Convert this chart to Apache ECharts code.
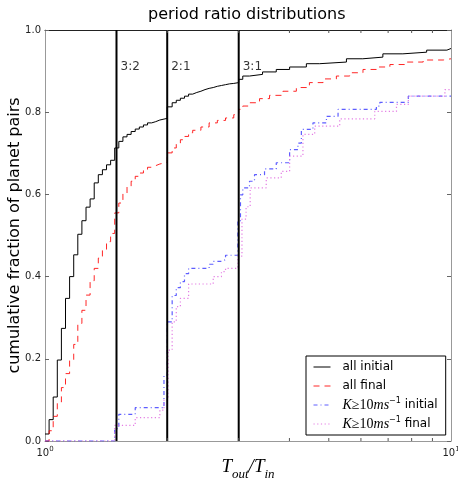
<!DOCTYPE html>
<html><head><meta charset="utf-8">
<script src="https://cdn.jsdelivr.net/npm/echarts@6/dist/echarts.min.js"></script>
<style>html,body{margin:0;padding:0;background:#fff}#c{width:458px;height:482px}</style>
</head><body><div id="c"></div>
<script>
// ---- data ----
const allInitial = [[1.000,0.017],[1.0235,0.052],[1.0476,0.107],[1.0723,0.197],[1.0975,0.274],[1.1233,0.347],[1.1497,0.400],[1.1768,0.453],[1.2045,0.503],[1.2328,0.536],[1.2619,0.569],[1.2915,0.589],[1.3219,0.628],[1.3530,0.648],[1.3849,0.660],[1.4175,0.672],[1.4508,0.683],[1.4848,0.713],[1.5199,0.729],[1.5556,0.740],[1.5923,0.746],[1.6298,0.753],[1.6681,0.759],[1.7074,0.764],[1.7476,0.769],[1.7888,0.774],[1.8309,0.777],[1.8740,0.781],[1.9182,0.785],[2.000,0.813],[2.0569,0.823],[2.1054,0.829],[2.1550,0.834],[2.2058,0.839],[2.2577,0.844],[2.3109,0.848],[2.3654,0.851],[2.4211,0.855],[2.4782,0.858],[2.5365,0.860],[2.5963,0.863],[2.6575,0.865],[2.7201,0.867],[2.7841,0.869],[2.8497,0.870],[2.9168,0.872],[3.000,0.880],[3.070,0.888],[3.189,0.892],[3.434,0.898],[3.712,0.904],[4.004,0.910],[4.403,0.918],[4.749,0.922],[5.527,0.930],[6.064,0.934],[6.795,0.942],[7.612,0.946],[8.710,0.951],[9.770,0.955],[10,0.955]];
const allFinal = [[1.000,0],[1.0235,0.025],[1.0476,0.060],[1.0723,0.095],[1.0975,0.130],[1.1233,0.164],[1.1497,0.196],[1.1768,0.235],[1.2045,0.286],[1.2328,0.318],[1.2619,0.355],[1.2915,0.390],[1.3219,0.420],[1.3530,0.445],[1.3849,0.465],[1.4175,0.485],[1.4508,0.505],[1.4848,0.555],[1.5199,0.579],[1.5556,0.603],[1.5923,0.620],[1.6298,0.632],[1.6681,0.644],[1.7074,0.652],[1.7476,0.660],[1.7888,0.666],[1.8309,0.670],[1.8740,0.674],[1.9182,0.678],[2.000,0.701],[2.0569,0.713],[2.1054,0.725],[2.1550,0.733],[2.2058,0.741],[2.2577,0.750],[2.3109,0.756],[2.4211,0.764],[2.5365,0.774],[2.6575,0.780],[2.7841,0.786],[2.9168,0.794],[3.000,0.807],[3.070,0.815],[3.189,0.823],[3.376,0.833],[3.573,0.841],[3.855,0.851],[4.160,0.860],[4.480,0.872],[4.840,0.881],[5.220,0.888],[5.630,0.896],[6.070,0.904],[6.550,0.910],[7.070,0.916],[7.770,0.922],[8.540,0.927],[9.570,0.930],[10,0.930]];
const kInitial = [[1.000,0],[1.4848,0.030],[1.5199,0.065],[1.6681,0.081],[1.9634,0.160],[2.000,0.290],[2.0569,0.354],[2.1054,0.373],[2.1550,0.388],[2.2058,0.407],[2.2577,0.420],[2.5365,0.430],[2.5963,0.437],[2.7201,0.441],[2.7841,0.452],[2.9856,0.534],[3.030,0.599],[3.070,0.616],[3.189,0.632],[3.281,0.648],[3.473,0.662],[3.712,0.677],[4.004,0.709],[4.198,0.725],[4.280,0.758],[4.570,0.774],[4.934,0.790],[5.270,0.807],[6.550,0.815],[6.680,0.824],[7.850,0.839],[10,0.839]];
const kFinal = [[1.000,0],[1.4848,0.038],[1.6681,0.057],[1.9182,0.075],[1.9634,0.100],[2.0096,0.221],[2.0569,0.290],[2.1054,0.327],[2.1550,0.347],[2.2577,0.382],[2.5963,0.400],[2.7201,0.412],[2.7841,0.420],[2.9856,0.450],[3.0559,0.540],[3.1279,0.570],[3.2016,0.616],[3.507,0.640],[3.819,0.656],[4.004,0.693],[4.318,0.746],[4.616,0.766],[5.320,0.784],[6.490,0.802],[7.340,0.819],[7.850,0.839],[9.660,0.855],[10,0.855]];
const seriesNames = ['all initial', 'all final', 'K≥10ms-1 initial', 'K≥10ms-1 final'];
const resonanceX = [1.5, 2, 3];
const resonanceLabels = ['3:2', '2:1', '3:1'];
const resonanceLabelY = 0.91;
const xMinorTicks = [2, 3, 4, 5, 6, 7, 8, 9];
const yTickFormat = 1; // decimals

const SANS = 'DejaVu Sans';
const SERIF = 'Liberation Serif';

const legendText = {
  'all initial': '{r|all initial}',
  'all final': '{r|all final}',
  'K≥10ms-1 initial': '{it|K}{n|≥10}{it|ms}{sup|−1}{r| initial}',
  'K≥10ms-1 final': '{it|K}{n|≥10}{it|ms}{sup|−1}{r| final}'
};

const chart = echarts.init(document.getElementById('c'), null, {renderer: 'canvas'});

function stepSeries(name, data, color, type, width) {
  return {
    name, type: 'line', data, step: 'end', symbol: 'none', showSymbol: false,
    lineStyle: {color, width, type}, itemStyle: {color}, clip: true, z: 3,
    xAxisIndex: 0, yAxisIndex: 0
  };
}

const series = [
  stepSeries(seriesNames[0], allInitial, '#000000', 'solid', 1),
  stepSeries(seriesNames[1], allFinal, 'rgba(255,0,0,0.85)', [6, 5], 1),
  stepSeries(seriesNames[2], kInitial, 'rgba(40,40,255,0.75)', [4, 3, 1, 3], 1.2),
  stepSeries(seriesNames[3], kFinal, 'rgba(225,110,225,0.9)', [1.2, 2.5], 1.2)
];

resonanceX.forEach((x) => {
  series.push({
    type: 'line', data: [[x, 0], [x, 1]], symbol: 'none', silent: true, z: 4,
    lineStyle: {color: '#000', width: 2}, xAxisIndex: 0, yAxisIndex: 0
  });
});

series.push({
  type: 'scatter', symbolSize: 0, silent: true, z: 5,
  data: resonanceX.map((x, i) => [x, resonanceLabelY, resonanceLabels[i]]),
  label: {show: true, position: 'right', distance: 4, formatter: p => p.value[2],
    fontFamily: SANS, fontSize: 12, color: '#000'}
});

series.push({
  type: 'custom', silent: true, z: 5,
  data: xMinorTicks.map(v => [v]),
  encode: {x: 0},
  renderItem: (params, api) => {
    const b = api.coord([api.value(0), 0]);
    const t = api.coord([api.value(0), 1]);
    return {type: 'group', children: [
      {type: 'line', shape: {x1: b[0], y1: b[1], x2: b[0], y2: b[1] - 3}, style: {stroke: '#555', lineWidth: 1}},
      {type: 'line', shape: {x1: t[0], y1: t[1], x2: t[0], y2: t[1] + 3}, style: {stroke: '#555', lineWidth: 1}}
    ]};
  }
});

chart.setOption({
  animation: false,
  backgroundColor: '#fff',
  title: {
    text: 'period ratio distributions', left: 148, top: 5, padding: [2, 0, 2, 0],
    textStyle: {fontFamily: SANS, fontSize: 16, fontWeight: 'normal', color: '#000'}
  },
  grid: {left: 45, right: 7, top: 30, bottom: 41, containLabel: false, outerBoundsMode: 'none'},
  legend: {
    data: seriesNames, orient: 'vertical', left: 306, top: 356,
    padding: [3, 8, 3, 7], itemGap: 3, itemWidth: 17, itemHeight: 10,
    borderColor: '#000', borderWidth: 1, backgroundColor: '#fff',
    itemStyle: {opacity: 0},
    lineStyle: {width: 1},
    formatter: name => legendText[name],
    textStyle: {
      fontFamily: SANS, fontSize: 12, color: '#000', padding: [0, 0, 0, 7], lineHeight: 16,
      rich: {
        r: {fontFamily: SANS, fontSize: 12, color: '#000', lineHeight: 16},
        it: {fontFamily: SERIF, fontStyle: 'italic', fontSize: 14, color: '#000', lineHeight: 16},
        n: {fontFamily: SERIF, fontSize: 14, color: '#000', lineHeight: 16},
        sup: {fontFamily: SANS, fontSize: 8, color: '#000', verticalAlign: 'top', lineHeight: 16}
      }
    }
  },
  xAxis: [{
    type: 'log', logBase: 10, min: 1, max: 10, position: 'bottom',
    axisLine: {show: true, onZero: false, lineStyle: {color: '#999', width: 1}},
    axisTick: {show: false},
    splitLine: {show: false},
    axisLabel: {
      margin: 5,
      formatter: v => '{b|10}{s|' + Math.round(Math.log10(v)) + '}',
      rich: {
        b: {fontFamily: SANS, fontSize: 10, color: '#222', lineHeight: 14},
        s: {fontFamily: SANS, fontSize: 7, color: '#222', verticalAlign: 'top', lineHeight: 14}
      }
    },
    name: '{t|T}{s|out}{t|/T}{s|in}', nameLocation: 'middle', nameGap: 12, nameMoveOverlap: false,
    nameTextStyle: {
      rich: {
        t: {fontFamily: SERIF, fontStyle: 'italic', fontSize: 19, color: '#000', lineHeight: 28},
        s: {fontFamily: SERIF, fontStyle: 'italic', fontSize: 13, color: '#000', lineHeight: 28, verticalAlign: 'bottom'}
      }
    }
  }, {
    type: 'log', logBase: 10, min: 1, max: 10, position: 'top',
    axisLine: {show: true, onZero: false, lineStyle: {color: '#222', width: 1}},
    axisTick: {show: false}, axisLabel: {show: false}, splitLine: {show: false}
  }],
  yAxis: [{
    type: 'value', min: 0, max: 1, interval: 0.2, position: 'left',
    axisLine: {show: true, onZero: false, lineStyle: {color: '#999', width: 1}},
    axisTick: {show: true, inside: true, length: 4, lineStyle: {color: '#666'}},
    splitLine: {show: false},
    axisLabel: {margin: 4, fontFamily: SANS, fontSize: 10, color: '#222', formatter: v => v.toFixed(yTickFormat)},
    name: 'cumulative fraction of planet pairs', nameLocation: 'middle', nameGap: 22, nameMoveOverlap: false,
    nameTextStyle: {fontFamily: SANS, fontSize: 16, color: '#000'}
  }, {
    type: 'value', min: 0, max: 1, interval: 0.2, position: 'right',
    axisLine: {show: true, onZero: false, lineStyle: {color: '#999', width: 1}},
    axisTick: {show: true, inside: true, length: 4, lineStyle: {color: '#666'}},
    axisLabel: {show: false}, splitLine: {show: false}
  }],
  series
});
</script></body></html>
